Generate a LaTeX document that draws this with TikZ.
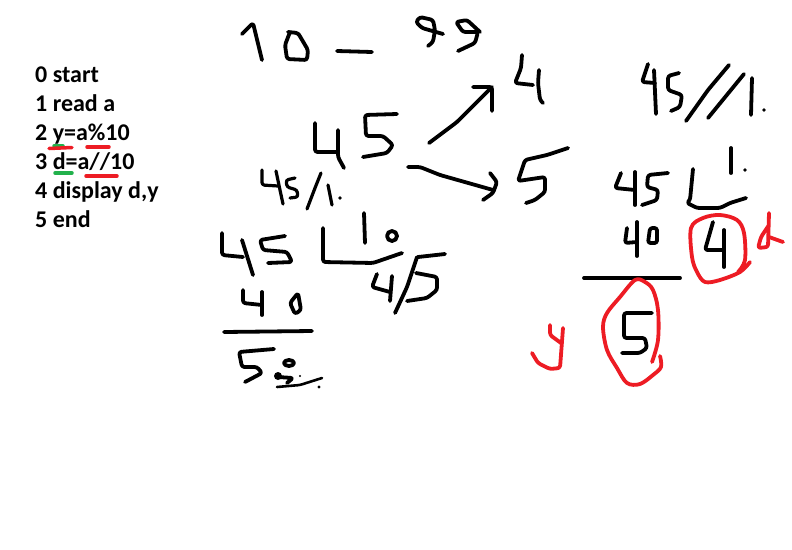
\documentclass[tikz,border=0pt]{standalone}
\usepackage{fontspec}
\setmainfont{Carlito}
\tikzset{
  ink/.style={draw=black,line width=3.8pt,line cap=round,line join=round,rounded corners=2.5pt},
  thin ink/.style={ink,line width=3.2pt},
  redink/.style={draw=inkred,line width=3.8pt,line cap=round,line join=round,rounded corners=2.5pt},
  mark red/.style={draw=inkred,line width=3.5pt,line cap=round},
  mark green/.style={draw=inkgreen,line width=3.5pt,line cap=round},
  codeline/.style={anchor=base west,inner sep=0pt,font=\fontsize{24}{28}\selectfont\bfseries,text=black},
  soft/.style={smooth,tension=0.55}
}
\definecolor{inkred}{RGB}{237,28,36}
\definecolor{inkgreen}{RGB}{34,177,76}
\begin{document}
\begin{tikzpicture}[x=1pt,y=-1pt]
\useasboundingbox (0,0) rectangle (792,549);
% code listing
\node[codeline] (l0) at (35,82) {0 start};
\node[codeline] (l1) at (35,111) {1 read a};
\node[codeline] (l2) at (35,140) {2 y=a\%10};
\node[codeline] (l3) at (35,169) {3 d=a//10};
\node[codeline] (l4) at (35,198) {4 display d,y};
\node[codeline] (l5) at (35,227) {5 end};
\draw[mark green] (54,146) -- (63,146);
\draw[mark red] (49,148.5) -- (72,147.5);
\draw[mark red] (87,147) -- (109,147);
\draw[mark green] (55,173) -- (72,173);
\draw[mark red] (86,176) -- (117,176);
% 10 - 99
\draw[ink] (242,34) -- (253,23) -- (262,60);
\draw[ink] (290,32) -- (285,45) -- (287,59) -- (307,60) -- (308,50) -- (298,33) -- (288,32);
\draw[ink] (337,51) -- (372,52);
\draw[ink] (443,34) -- (422,28) -- (416,22) -- (420,17) -- (433,20) -- (435,30) -- (433,42) -- (428,46);
\draw[ink] (480,32) -- (467,20) -- (456,22) -- (463,32) -- (478,32) -- (475,43) -- (458,51);
% 45 centre
\draw[ink] (315,123) -- (315,152) -- (338,152);
\draw[ink] (338,130) -- (338,157) -- (344,168);
\draw[ink] (397,114) -- (365,115) -- (366,136) -- (383,136) -- (393,145) -- (387,153) -- (363,157);
% arrows
\draw[ink] (429,143) -- (457,122) -- (492,87);
\draw[ink] (473,87) -- (492,87) -- (492,111);
\draw[ink] (408,167) -- (420,167) -- (440,175) -- (493,190);
\draw[ink] (490,173) -- (497,182) -- (493,193) -- (483,200);
% 4 and 5
\draw[ink] (522,55) -- (521,68) -- (515,83) -- (533,85);
\draw[ink] (539,70) -- (538,83) -- (540,100) -- (543,103);
\draw[ink] (568,148) -- (547,155) -- (525,160) -- (518,181) -- (545,177) -- (545,192) -- (535,200) -- (526,203);
% 45/1.
\draw[thin ink] (262,170) -- (262,185) -- (278,186);
\draw[thin ink] (276,171) -- (280,190) -- (283,204);
\draw[thin ink] (295,178) -- (286,180) -- (287,187) -- (297,190) -- (298,197) -- (290,198);
\draw[thin ink] (321,173) -- (315,188) -- (307,209);
\draw[thin ink] (328,185) -- (332,205);
\fill (340,198) circle (1.8pt);
% left division
\draw[ink] (222,233) -- (222,255) -- (243,257);
\draw[ink] (242,240) -- (253,275);
\draw[ink] (285,236) -- (260,240) -- (263,250) -- (287,252) -- (292,262) -- (268,263);
\draw[ink] (323,228) -- (323,262) -- (373,263) -- (402,253);
\draw[ink] (364,213) -- (365,243);
\draw[ink] (392,236) circle (5pt);
\draw[ink] (377,274) -- (372,287) -- (390,292);
\draw[ink] (392,276) -- (390,301);
\draw[ink] (417,257) -- (407,287) -- (395,313);
\draw[ink] (445,254) -- (418,257);
\draw[ink] (416,273) -- (437,277) -- (437,290) -- (427,298) -- (407,301);
\draw[ink] (243,290) -- (243,303) -- (262,305);
\draw[ink] (262,292) -- (262,315);
\draw[ink] (298,293) -- (290,303) -- (295,314) -- (301,310) -- cycle;
\draw[ink] (224,332) -- (312,331);
\draw[ink] (274,349) -- (239,352) -- (242,367) -- (257,367) -- (262,373) -- (245,382);
\draw[ink] (289,363) ellipse (5pt and 3pt);
\fill (278,376) circle (4pt);
\draw[ink] (278,377) -- (293,378) -- (287,383);
\draw[ink,line width=2.6pt] (277,387) -- (300,385) -- (322,378);
\fill (319,387) circle (1.6pt);
\fill (300,376) circle (1.2pt);
% 45//1.
\draw[ink] (648,64) -- (642,82) -- (655,83);
\draw[ink] (654,70) -- (656,114);
\draw[ink] (679,73) -- (668,76) -- (668,90) -- (682,95) -- (680,107) -- (671,111);
\draw[ink] (729,65) -- (708,90) -- (686,121);
\draw[ink] (744,74) -- (708,118);
\draw[ink] (752,78) -- (751,115);
\fill (764,110) circle (1.8pt);
% right division
\draw[ink] (621,173) -- (615,188) -- (635,190);
\draw[ink] (635,172) -- (635,205);
\draw[ink] (668,173) -- (648,175) -- (647,187) -- (658,190) -- (657,200) -- (642,205);
\draw[ink] (693,169) -- (690,200) -- (687,203) -- (697,208) -- (720,208) -- (730,203) -- (746,198);
\draw[ink] (731,148) -- (731,173);
\fill (745,170) circle (1.8pt);
\draw[ink] (627,228) -- (625,243) -- (637,242);
\draw[ink] (637,222) -- (637,256);
\draw[ink] (650,228) -- (657,228) -- (657,243) -- (648,243) -- cycle;
\draw[ink] (584,278) -- (680,278);
\draw[ink] (713,222) -- (705,250) -- (724,250);
\draw[ink] (724,230) -- (724,267);
\draw[ink] (652,313) -- (624,313) -- (624,338) -- (645,338) -- (647,348) -- (640,353) -- (622,353);
% red circles and letters
\draw[redink,rounded corners=0pt] plot[soft] coordinates {(750,262) (740,272) (720,280) (705,282) (697,272) (692,257) (691,228) (703,218) (720,215) (737,220) (744,233) (745,260) (738,272)};
\draw[redink,rounded corners=0pt] plot[soft] coordinates {(652,362) (658,340) (658,310) (653,290) (645,282) (635,280) (620,297) (607,313) (603,327) (607,350) (617,368) (627,383) (640,384) (653,375) (661,367) (660,356)};
\draw[redink] (769,213) -- (768,247) -- (758,248) -- (761,237) -- (769,225);
\draw[redink] (769,237) -- (783,242);
\draw[redink] (550,325) -- (550,335) -- (561,343);
\draw[redink] (563,328) -- (560,368) -- (550,369) -- (538,363) -- (532,353);
\end{tikzpicture}
\end{document}
